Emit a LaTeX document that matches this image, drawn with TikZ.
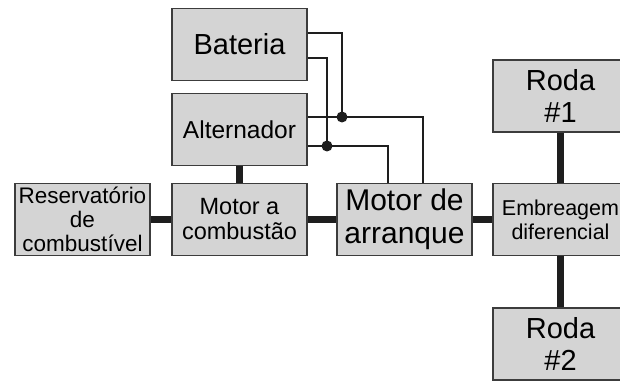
\documentclass[tikz,border=0pt]{standalone}
\usepackage{fontspec}
\setmainfont{Liberation Sans}
\definecolor{boxgray}{RGB}{212,212,212}
\definecolor{edgegray}{RGB}{60,60,60}
\definecolor{wiredark}{RGB}{30,30,30}
\usetikzlibrary{positioning,calc}

\begin{document}
\begin{tikzpicture}[x=1pt, y=1pt,
    partbox/.style={rectangle, draw=edgegray, fill=boxgray, line width=1.8pt,
                    minimum width=135pt, minimum height=72pt, inner sep=0pt,
                    align=center},
    bigtxt/.style={font=\fontsize{29pt}{32pt}\selectfont},
    midtxt/.style={font=\fontsize{23.5pt}{25pt}\selectfont},
    smalltxt/.style={font=\fontsize{21.5pt}{24pt}\selectfont},
    wire/.style={draw=wiredark, line width=2pt},
    shaft/.style={draw=wiredark, line width=7pt}
  ]
    \clip (0,0) rectangle (620,385);
    \fill[white] (0,0) rectangle (620,385);

    % Left column: battery, alternator, engine
    \node[partbox, bigtxt] (bat)   at (239.5, 340.5) {Bateria};
    \node[partbox, font=\fontsize{24.5pt}{26pt}\selectfont]
                           (alt)   at (239.5, 255.5) {Alternador};
    \node[partbox, midtxt] (mcomb) at (239.5, 165.5) {Motor a\\combustão};
    \node[partbox, font=\fontsize{22.5pt}{24pt}\selectfont]
                           (res)   at (82.5, 165.5)  {Reservatório\\de\\combustível};

    % Starter and drive train
    \node[partbox, font=\fontsize{30pt}{33pt}\selectfont]
                           (marr)  at (404.5, 165.5) {Motor de\\arranque};
    \node[partbox, smalltxt] (emb) at (560.5, 165.5) {Embreagem\\diferencial};
    \node[partbox, bigtxt] (roda1) at (560.5, 289)   {Roda\\\#1};
    \node[partbox, bigtxt] (roda2) at (560.5, 41)    {Roda\\\#2};

    % Mechanical links
    \draw[shaft] (res.east)    -- (mcomb.west);
    \draw[shaft] (mcomb.east)  -- (marr.west);
    \draw[shaft] (marr.east)   -- (emb.west);
    \draw[shaft] (alt.south)   -- (mcomb.north);
    \draw[shaft] (roda1.south) -- (emb.north);
    \draw[shaft] (emb.south)   -- (roda2.north);

    % Electrical wiring
    \coordinate (j1) at (342, 268);
    \coordinate (j2) at (327, 239);
    \draw[wire] ([yshift=11.5pt]bat.east)  -| (j1);
    \draw[wire] ([yshift=-13.5pt]bat.east) -| (j2);
    \draw[wire] ([yshift=12.5pt]alt.east)  -| ([xshift=18.5pt]marr.north);
    \draw[wire] ([yshift=-16.5pt]alt.east) -| ([xshift=-16.5pt]marr.north);
    \fill[wiredark] (j1) circle (5.5pt);
    \fill[wiredark] (j2) circle (5.5pt);
  \end{tikzpicture}
\end{document}
